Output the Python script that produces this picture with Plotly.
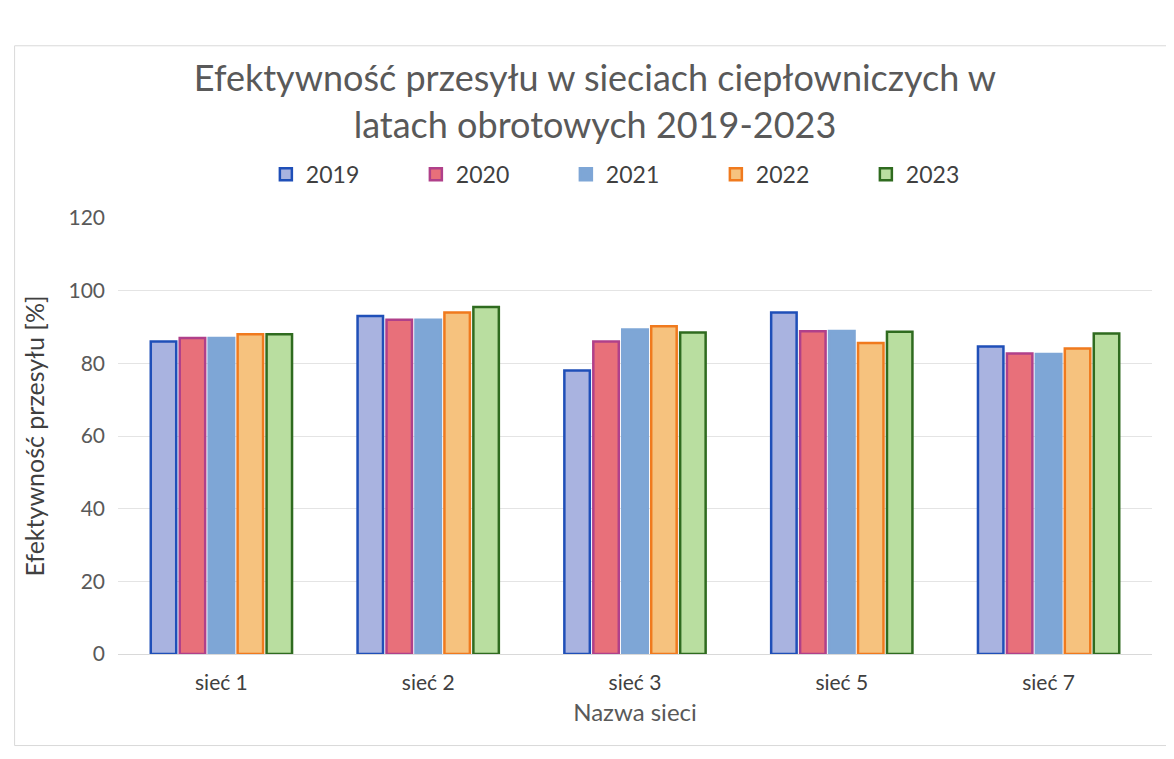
import plotly.graph_objects as go

# Data
networks = ['sieć 1', 'sieć 2', 'sieć 3', 'sieć 5', 'sieć 7']
years = ['2019', '2020', '2021', '2022', '2023']

eff_2019 = [86, 93, 78, 94, 84.6]
eff_2020 = [87, 92, 86, 88.8, 82.7]
eff_2021 = [87, 92, 89.3, 88.9, 82.6]
eff_2022 = [88, 94, 90.2, 85.6, 84.1]
eff_2023 = [88, 95.5, 88.5, 88.7, 88.2]

series = [eff_2019, eff_2020, eff_2021, eff_2022, eff_2023]
fills = ['#a9b3e0', '#e8707a', '#7ea6d6', '#f6c27e', '#b9dea0']
borders = ['#1f4fb8', '#b0408a', '#7ea6d6', '#f07a1e', '#2f6b1f']

TEXT = '#595959'
FONT = 'Lato, "Open Sans", sans-serif'

fig = go.Figure()

for year, vals, fc, bc in zip(years, series, fills, borders):
    fig.add_trace(go.Bar(
        x=networks,
        y=vals,
        name=year,
        marker=dict(color=fc, line=dict(color=bc, width=2.5)),
        hovertemplate='<b>%{x}</b><br>' + year + ': %{y:.1f}%<extra></extra>'
    ))

fig.update_layout(
    title=dict(
        text='Efektywność przesyłu w sieciach ciepłowniczych w<br>latach obrotowych 2019-2023',
        x=0.5, xanchor='center', y=0.89, yanchor='top',
        font=dict(size=36, color=TEXT, family=FONT)
    ),
    barmode='group',
    bargap=0.3,
    bargroupgap=0.12,
    width=1174,
    height=759,
    margin=dict(l=110, r=30, t=210, b=113),
    paper_bgcolor='white',
    plot_bgcolor='white',
    font=dict(family=FONT, color=TEXT, size=20),
    legend=dict(
        orientation='h', x=0.143, xanchor='left', y=1.1, yanchor='middle',
        font=dict(size=23, color='#404040'),
        entrywidth=105, traceorder='normal'
    ),
    xaxis=dict(
        title=dict(text='Nazwa sieci', font=dict(size=24, color=TEXT), standoff=10),
        tickfont=dict(size=21, color='#404040'),
        ticklabelstandoff=10,
        showline=True, linecolor='#d9d9d9', linewidth=1,
        ticks=''
    ),
    yaxis=dict(
        title=dict(text='Efektywność przesyłu [%]', font=dict(size=25, color='#404040'), standoff=16),
        range=[0, 120], dtick=20,
        tickfont=dict(size=21, color=TEXT),
        ticklabelstandoff=12,
        showgrid=True, gridcolor='#e4e4e4', gridwidth=1,
        zeroline=False, ticks=''
    ),
    shapes=[dict(
        type='rect', xref='paper', yref='paper',
        x0=-0.1, x1=1.025, y0=-0.21, y1=1.395,
        line=dict(color='#d9d9d9', width=1)
    )]
)

fig.write_html("out.html")
